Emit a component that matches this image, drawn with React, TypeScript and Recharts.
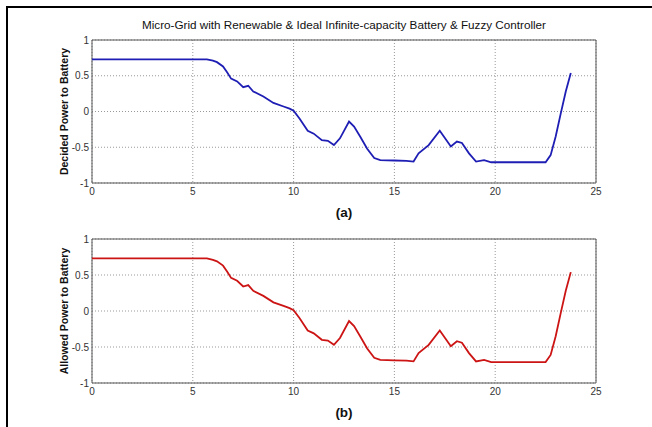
import React from "react"
import {
  LineChart, Line, XAxis, YAxis, CartesianGrid, ReferenceArea,
} from "recharts"

// hours of the day (x) and the battery power set-point
const HOURS = [
  0, 5.7, 6.0, 6.2, 6.5, 6.7, 6.9, 7.2, 7.5, 7.75, 8.0, 8.5, 9.0, 9.5, 9.8, 10.0,
  10.3, 10.7, 11.0, 11.4, 11.7, 12.0, 12.3, 12.75, 13.0, 13.3, 13.65, 14.0, 14.3,
  15.0, 15.6, 15.95, 16.2, 16.7, 17.25, 17.8, 18.1, 18.35, 18.7, 19.05, 19.45,
  19.8, 21.0, 22.5, 22.75, 23.0, 23.25, 23.5, 23.75,
]

const DECIDED_POWER = [
  0.73, 0.73, 0.71, 0.69, 0.63, 0.55, 0.46, 0.42, 0.34, 0.36, 0.28, 0.21, 0.12, 0.07, 0.04, 0.01,
  -0.1, -0.27, -0.31, -0.4, -0.41, -0.47, -0.375, -0.14, -0.21, -0.35, -0.52, -0.65, -0.68,
  -0.685, -0.69, -0.7, -0.585, -0.47, -0.27, -0.49, -0.42, -0.44, -0.585, -0.7, -0.68,
  -0.71, -0.71, -0.71, -0.61, -0.35, -0.03, 0.28, 0.54,
]

// the allowed power follows the decided power exactly in this run
const ALLOWED_POWER = [...DECIDED_POWER]

const X_TICKS = [0, 5, 10, 15, 20, 25]
const Y_TICKS = [-1, -0.5, 0, 0.5, 1]

const FONT = "'Liberation Sans', Arial, Helvetica, sans-serif"

const decidedData = HOURS.map((h, i) => ({ hour: h, power: DECIDED_POWER[i] }))
const allowedData = HOURS.map((h, i) => ({ hour: h, power: ALLOWED_POWER[i] }))

function PowerPanel({
  data, color, yLabel, caption, height, margin,
}: {
  data: { hour: number; power: number }[]
  color: string
  yLabel: string
  caption: string
  height: number
  margin: { top: number; right: number; bottom: number; left: number }
}) {
  const tick = { fill: "#333", fontSize: 10, fontFamily: FONT }
  return (
    <LineChart width={652} height={height} data={data} margin={margin}>
      <CartesianGrid stroke="#999" strokeDasharray="1 2" />
      <XAxis
        dataKey="hour" type="number" domain={[0, 25]} ticks={X_TICKS}
        axisLine={false} tickLine={false} tickSize={0} tickMargin={5}
        tick={tick} height={34} interval={0}
        label={{
          value: caption, position: "insideBottom", offset: 0,
          style: { fill: "#111", fontSize: 13.5, fontWeight: "bold", fontFamily: FONT },
        }}
      />
      <YAxis
        type="number" domain={[-1, 1]} ticks={Y_TICKS}
        axisLine={false} tickLine={false} tickSize={0} tickMargin={3}
        tick={tick} width={40} interval={0}
        label={{
          value: yLabel, angle: -90, position: "insideLeft", offset: 12,
          style: { fill: "#111", fontSize: 10.5, fontWeight: "bold", fontFamily: FONT, textAnchor: "middle" },
        }}
      />
      <ReferenceArea x1={0} x2={25} y1={-1} y2={1} fill="none" fillOpacity={0} stroke="#555" strokeWidth={1} />
      <Line
        type="linear" dataKey="power" stroke={color} strokeWidth={1.8}
        dot={false} isAnimationActive={false}
      />
    </LineChart>
  )
}

export default function App() {
  return (
    <div style={{ position: "absolute", left: 0, top: 0, width: 652, height: 427, background: "#fff", overflow: "hidden" }}>
      <div style={{
        position: "absolute", left: 6, top: 6, width: 646, height: 421,
        borderLeft: "2px solid #000", borderTop: "2px solid #000",
      }} />
      <div style={{
        position: "absolute", left: 92, width: 504, top: 18, textAlign: "center",
        fontFamily: FONT, fontSize: 11.7, color: "#111",
      }}>
        Micro-Grid with Renewable &amp; Ideal Infinite-capacity Battery &amp; Fuzzy Controller
      </div>
      <div style={{ position: "absolute", left: 0, top: 0 }}>
        <PowerPanel
          data={decidedData} color="#1e1eb4" yLabel="Decided Power to Battery" caption="(a)"
          height={220} margin={{ top: 40, right: 56, bottom: 3, left: 52 }}
        />
      </div>
      <div style={{ position: "absolute", left: 0, top: 220 }}>
        <PowerPanel
          data={allowedData} color="#cc1414" yLabel="Allowed Power to Battery" caption="(b)"
          height={207} margin={{ top: 19, right: 56, bottom: 10, left: 52 }}
        />
      </div>
    </div>
  )
}
